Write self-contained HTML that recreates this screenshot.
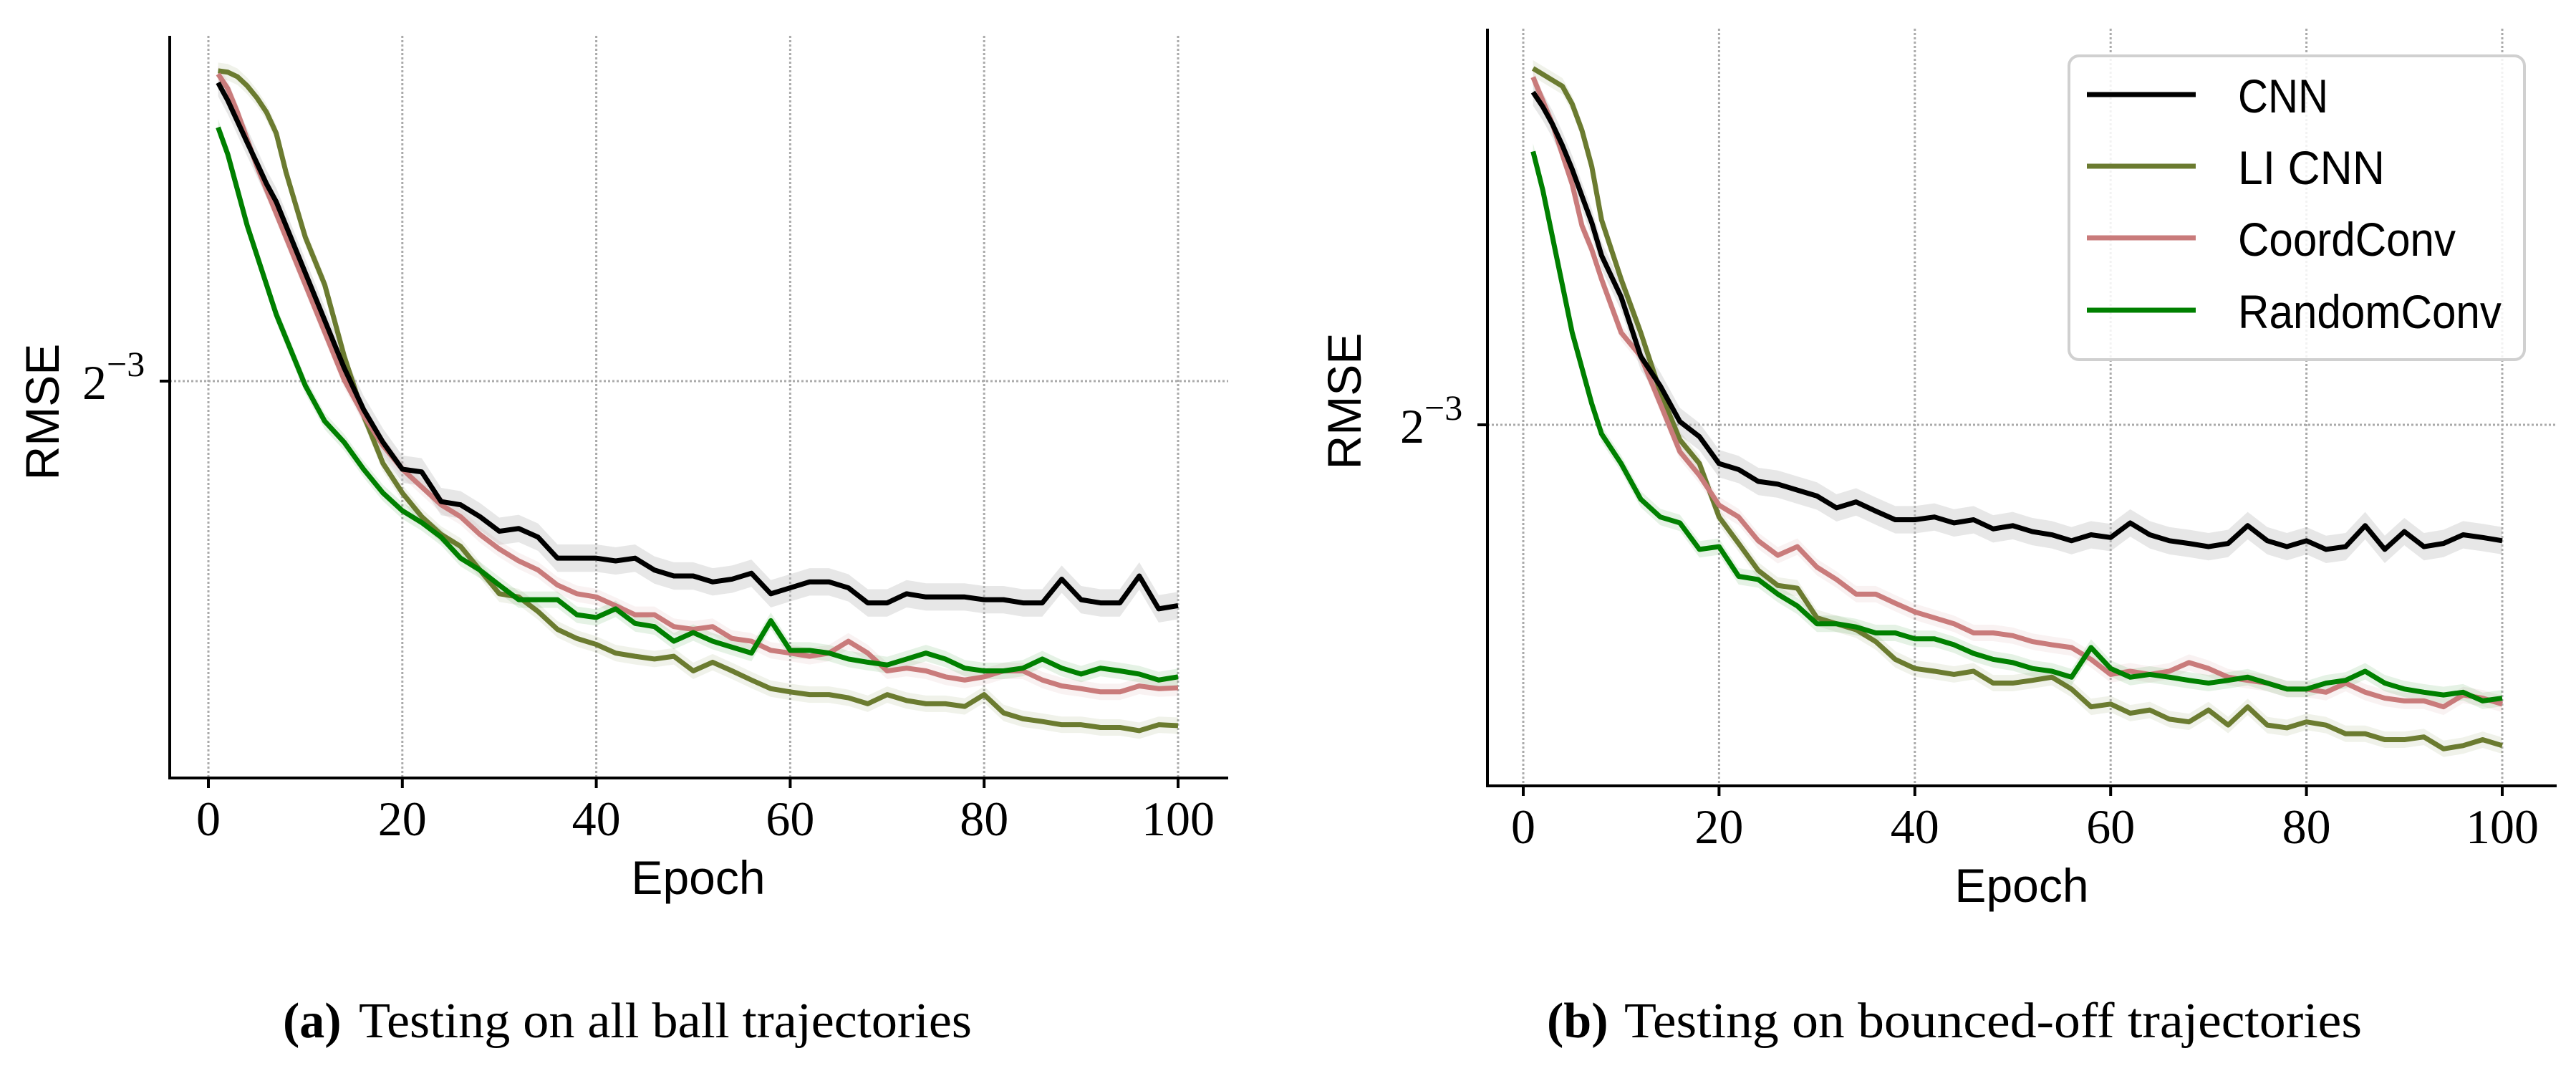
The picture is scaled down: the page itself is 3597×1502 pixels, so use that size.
<!DOCTYPE html>
<html><head><meta charset="utf-8"><style>
html,body{margin:0;padding:0;background:#fff}
svg{display:block}
.tick{font-family:"Liberation Serif",serif;font-size:68px}
.lab{font-family:"Liberation Sans",sans-serif;font-size:66px}
.cap{font-family:"Liberation Serif",serif;font-size:70px}
</style></head><body>
<svg id="fig" width="3597" height="1502" viewBox="0 0 3597 1502" xmlns="http://www.w3.org/2000/svg"></svg>
<script>
const epochs=[1,2,3,4,5,6,7,8,10,12,14,16,18,20,22,24,26,28,30,32,34,36,38,40,42,44,46,48,50,52,54,56,58,60,62,64,66,68,70,72,74,76,78,80,82,84,86,88,90,92,94,96,98,100];
const xTicks=[0,20,40,60,80,100];
const seriesNames=["CNN","LI CNN","CoordConv","RandomConv"];
// log2(RMSE), panel (a)
const aCNN=[-2.346,-2.385,-2.431,-2.477,-2.522,-2.568,-2.607,-2.659,-2.763,-2.867,-2.971,-3.062,-3.134,-3.193,-3.199,-3.264,-3.271,-3.297,-3.329,-3.323,-3.342,-3.388,-3.388,-3.388,-3.394,-3.388,-3.414,-3.427,-3.427,-3.440,-3.434,-3.421,-3.466,-3.453,-3.440,-3.440,-3.453,-3.486,-3.486,-3.466,-3.473,-3.473,-3.473,-3.479,-3.479,-3.486,-3.486,-3.434,-3.479,-3.486,-3.486,-3.427,-3.499,-3.492];
const aLI=[-2.320,-2.323,-2.333,-2.353,-2.379,-2.411,-2.457,-2.542,-2.685,-2.789,-2.945,-3.075,-3.180,-3.245,-3.297,-3.336,-3.362,-3.414,-3.466,-3.473,-3.505,-3.544,-3.564,-3.577,-3.596,-3.603,-3.609,-3.603,-3.635,-3.616,-3.635,-3.655,-3.674,-3.681,-3.687,-3.687,-3.694,-3.707,-3.687,-3.700,-3.707,-3.707,-3.713,-3.687,-3.727,-3.740,-3.746,-3.753,-3.753,-3.759,-3.759,-3.766,-3.753,-3.755];
const aCoord=[-2.327,-2.359,-2.411,-2.470,-2.529,-2.581,-2.633,-2.685,-2.789,-2.893,-2.997,-3.075,-3.141,-3.193,-3.232,-3.271,-3.297,-3.336,-3.368,-3.394,-3.414,-3.447,-3.466,-3.473,-3.492,-3.512,-3.512,-3.538,-3.544,-3.538,-3.564,-3.570,-3.590,-3.596,-3.603,-3.596,-3.570,-3.596,-3.635,-3.629,-3.635,-3.648,-3.655,-3.648,-3.635,-3.635,-3.655,-3.668,-3.674,-3.681,-3.681,-3.668,-3.674,-3.672];
const aRandom=[-2.444,-2.503,-2.581,-2.659,-2.724,-2.789,-2.854,-2.906,-3.010,-3.088,-3.134,-3.193,-3.245,-3.284,-3.310,-3.342,-3.388,-3.414,-3.447,-3.479,-3.479,-3.479,-3.512,-3.518,-3.499,-3.531,-3.538,-3.570,-3.551,-3.570,-3.583,-3.596,-3.525,-3.590,-3.590,-3.596,-3.609,-3.616,-3.622,-3.609,-3.596,-3.609,-3.629,-3.635,-3.635,-3.629,-3.609,-3.629,-3.642,-3.629,-3.635,-3.642,-3.655,-3.648];
// log2(RMSE), panel (b)
const bCNN=[-2.271,-2.303,-2.342,-2.388,-2.440,-2.499,-2.557,-2.629,-2.720,-2.850,-2.915,-2.993,-3.026,-3.085,-3.098,-3.124,-3.130,-3.143,-3.156,-3.182,-3.169,-3.189,-3.208,-3.208,-3.202,-3.215,-3.208,-3.228,-3.221,-3.234,-3.241,-3.254,-3.241,-3.247,-3.215,-3.241,-3.254,-3.260,-3.267,-3.260,-3.221,-3.254,-3.267,-3.254,-3.273,-3.267,-3.221,-3.273,-3.234,-3.267,-3.260,-3.241,-3.247,-3.254];
const bLI=[-2.219,-2.232,-2.245,-2.258,-2.297,-2.355,-2.434,-2.551,-2.681,-2.798,-2.928,-3.033,-3.085,-3.202,-3.260,-3.319,-3.352,-3.358,-3.423,-3.436,-3.449,-3.475,-3.514,-3.534,-3.540,-3.547,-3.540,-3.566,-3.566,-3.560,-3.553,-3.579,-3.618,-3.612,-3.632,-3.625,-3.645,-3.651,-3.625,-3.658,-3.618,-3.658,-3.664,-3.651,-3.658,-3.677,-3.677,-3.690,-3.690,-3.684,-3.710,-3.703,-3.690,-3.703];
const bCoord=[-2.238,-2.290,-2.342,-2.408,-2.473,-2.564,-2.616,-2.681,-2.798,-2.850,-2.954,-3.059,-3.111,-3.176,-3.202,-3.254,-3.286,-3.267,-3.312,-3.339,-3.371,-3.371,-3.391,-3.410,-3.423,-3.436,-3.456,-3.456,-3.462,-3.475,-3.482,-3.488,-3.514,-3.547,-3.540,-3.547,-3.540,-3.521,-3.534,-3.553,-3.560,-3.566,-3.579,-3.579,-3.586,-3.566,-3.586,-3.599,-3.605,-3.605,-3.618,-3.592,-3.599,-3.612];
const bRandom=[-2.401,-2.486,-2.590,-2.694,-2.798,-2.876,-2.954,-3.020,-3.085,-3.163,-3.202,-3.215,-3.273,-3.267,-3.332,-3.339,-3.371,-3.397,-3.436,-3.436,-3.443,-3.456,-3.456,-3.469,-3.469,-3.482,-3.501,-3.514,-3.521,-3.534,-3.540,-3.553,-3.488,-3.534,-3.553,-3.547,-3.553,-3.560,-3.566,-3.560,-3.553,-3.566,-3.579,-3.579,-3.566,-3.560,-3.540,-3.566,-3.579,-3.586,-3.592,-3.586,-3.605,-3.599];

const colors=["#000000","#6b7b30","#c97b7b","#008000"];
const NS="http://www.w3.org/2000/svg";
const svg=document.getElementById('fig');
function mk(tag,attrs,parent){const e=document.createElementNS(NS,tag);for(const k in attrs)e.setAttribute(k,attrs[k]);(parent||svg).appendChild(e);return e;}

function panel(cfg){
  const g=mk('g',{});
  
  
  const X=e=>cfg.x0+e*cfg.xs;
  const Y=v=>cfg.gridY+(-3-v)*cfg.ys;
  xTicks.forEach(t=>{
    const l=mk('line',{x1:X(t),x2:X(t),y1:cfg.top,y2:cfg.bottom,stroke:'#aaaaaa','stroke-width':3,'stroke-dasharray':'3,3'},g);
    
    
  });
  const hg=mk('line',{x1:cfg.left,x2:cfg.right,y1:Y(-3),y2:Y(-3),stroke:'#aaaaaa','stroke-width':3,'stroke-dasharray':'3,3'},g);
  
  
  cfg.series.forEach((s,i)=>{
    const hw=i===0?0.03:0.018;
    let up=epochs.map((e,j)=>X(e)+','+Y(s[j]+hw)).join(' ');
    let dn=epochs.map((e,j)=>X(e)+','+Y(s[j]-hw)).reverse().join(' ');
    const b=mk('polygon',{points:up+' '+dn,fill:i===0?'#bbbbbb':colors[i],'fill-opacity':i===0?0.35:0.1},g);
    
    
  });
  [1,2,3,0].forEach(i=>{
    const s=cfg.series[i];
    const p=mk('polyline',{points:epochs.map((e,j)=>X(e)+','+Y(s[j])).join(' '),fill:'none',stroke:colors[i],'stroke-width':7,'stroke-linejoin':'round'},g);
    
    
  });
  const sp1=mk('line',{x1:cfg.left,x2:cfg.left,y1:cfg.top,y2:cfg.bottom+2,stroke:'#000','stroke-width':4},g);
  
  
  const sp2=mk('line',{x1:cfg.left-2,x2:cfg.right,y1:cfg.bottom,y2:cfg.bottom,stroke:'#000','stroke-width':4},g);
  
  
  xTicks.forEach(t=>{
    mk('line',{x1:X(t),x2:X(t),y1:cfg.bottom,y2:cfg.bottom+14,stroke:'#000','stroke-width':4},g);
    const tx=mk('text',{x:X(t),y:cfg.bottom+80,'text-anchor':'middle',class:'tick'},g);
    tx.textContent=t;
    
    
  });
  mk('line',{x1:cfg.left-14,x2:cfg.left,y1:Y(-3),y2:Y(-3),stroke:'#000','stroke-width':4},g);
  const yl=mk('text',{x:cfg.left-122,y:Y(-3)+25,class:'tick'},g);
  yl.innerHTML='2<tspan dy="-32" font-size="50">−3</tspan>';
  
  
  const xt=mk('text',{x:cfg.xlabX,y:cfg.bottom+162,'text-anchor':'middle',class:'lab'},g);
  xt.textContent='Epoch';
  
  
  const yt=mk('text',{x:0,y:0,'text-anchor':'middle',class:'lab',transform:`translate(${cfg.ylabX},${cfg.ylabY}) rotate(-90)`},g);
  yt.textContent='RMSE';
  
  
}
panel({name:'chart-a',x0:291,xs:13.54,gridY:532,ys:637,top:50,bottom:1086,left:237,right:1715,xlabX:975,ylabX:82,ylabY:575,series:[aCNN,aLI,aCoord,aRandom]});
panel({name:'chart-b',x0:2127,xs:13.67,gridY:593,ys:637,top:40,bottom:1097,left:2077,right:3570,xlabX:2823,ylabX:1900,ylabY:560,series:[bCNN,bLI,bCoord,bRandom]});

const lg=mk('g',{});


mk('rect',{x:2889,y:78,width:636,height:424,rx:14,fill:'#fff','fill-opacity':0.85,stroke:'#d0d0d0','stroke-width':4},lg);
const ly=[132,232,332,433];
const lw=[126,205,304,368];
seriesNames.forEach((n,i)=>{
  const l=mk('line',{x1:2914,x2:3066,y1:ly[i],y2:ly[i],stroke:colors[i],'stroke-width':7},lg);
  
  
  const t=mk('text',{x:3125,y:ly[i]+25,class:'lab','font-size':72,textLength:lw[i],lengthAdjust:'spacingAndGlyphs'},lg);
  t.textContent=n;
  
  
});

const ca=mk('text',{x:395,y:1448,class:'cap'});
ca.innerHTML='<tspan font-weight="bold">(a)</tspan> <tspan x="501" textLength="856" lengthAdjust="spacingAndGlyphs">Testing on all ball trajectories</tspan>';


const cb=mk('text',{x:2160,y:1448,class:'cap'});
cb.innerHTML='<tspan font-weight="bold">(b)</tspan> <tspan x="2268" textLength="1030" lengthAdjust="spacingAndGlyphs">Testing on bounced-off trajectories</tspan>';


</script>
</body></html>
